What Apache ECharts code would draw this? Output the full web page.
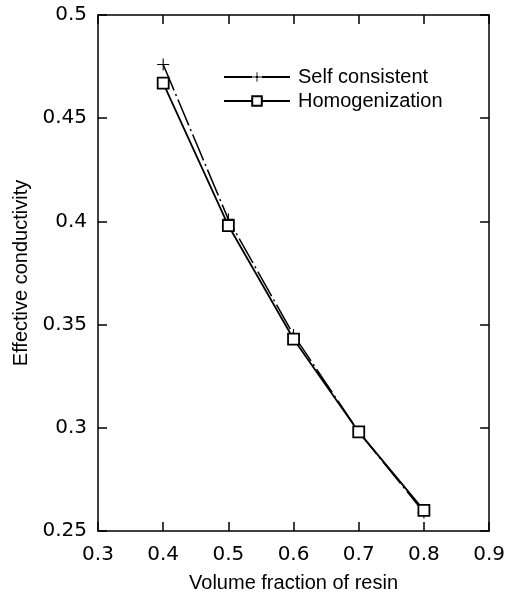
<!DOCTYPE html>
<html>
<head>
<meta charset="utf-8">
<script src="https://cdn.jsdelivr.net/npm/echarts@6/dist/echarts.min.js"></script>
<style>
  html, body { margin: 0; padding: 0; background: #fff; }
  #chart { width: 508px; height: 598px; }
</style>
</head>
<body>
<div id="chart"></div>
<script>
// volume fraction of resin
const fractions = [0.4, 0.5, 0.6, 0.7, 0.8];
const selfConsistent = [0.476, 0.401, 0.345, 0.298, 0.259];
const homogenization = [0.467, 0.398, 0.343, 0.298, 0.260];

const chart = echarts.init(document.getElementById('chart'));

const font = '"Liberation Sans", Arial, sans-serif';
const tickFont = '"DejaVu Sans", sans-serif';
const crossPath = 'path://M-0.09,-1 L0.09,-1 L0.09,-0.09 L1,-0.09 L1,0.09 L0.09,0.09 L0.09,1 L-0.09,1 L-0.09,0.09 L-1,0.09 L-1,-0.09 L-0.09,-0.09 Z';

const axisLine = { show: true, lineStyle: { color: '#000', width: 1.5 } };
const axisTick = { show: true, inside: true, length: 9, lineStyle: { color: '#000', width: 1.5 } };

const options = {
  animation: false,
  backgroundColor: '#fff',
  textStyle: { fontFamily: font },
  grid: { left: 98, right: 18, top: 15, bottom: 61, containLabel: false },
  legend: {
    orient: 'vertical',
    left: 218,
    top: 62,
    itemWidth: 66,
    itemHeight: 12,
    itemGap: 4,
    textStyle: { fontSize: 20, color: '#000', fontFamily: font, padding: [0, 0, 0, 3] },
    data: ['Self consistent', 'Homogenization']
  },
  xAxis: [
    {
      type: 'value', min: 0.3, max: 0.9, interval: 0.1,
      name: 'Volume fraction of resin', nameLocation: 'middle', nameGap: 42,
      nameTextStyle: { fontSize: 20, color: '#000' },
      axisLine, axisTick,
      splitLine: { show: false },
      axisLabel: { color: '#000', fontSize: 20, fontFamily: tickFont, margin: 14, formatter: v => v.toFixed(1) }
    },
    {
      type: 'value', position: 'top', min: 0.3, max: 0.9, interval: 0.1,
      axisLine, axisTick, splitLine: { show: false }, axisLabel: { show: false }
    }
  ],
  yAxis: [
    {
      type: 'value', min: 0.25, max: 0.5, interval: 0.05,
      name: 'Effective conductivity', nameLocation: 'middle', nameGap: 61,
      nameTextStyle: { fontSize: 20, color: '#000' },
      axisLine, axisTick,
      splitLine: { show: false },
      axisLabel: { color: '#000', fontSize: 20, fontFamily: tickFont, margin: 11, formatter: v => String(+v.toFixed(2)) }
    },
    {
      type: 'value', position: 'right', min: 0.25, max: 0.5, interval: 0.05,
      axisLine, axisTick, splitLine: { show: false }, axisLabel: { show: false }
    }
  ],
  series: [
    {
      name: 'Self consistent',
      type: 'line',
      data: fractions.map((x, i) => [x, selfConsistent[i]]),
      symbol: crossPath,
      symbolSize: 12,
      itemStyle: { color: '#000' },
      lineStyle: { color: '#000', width: 1.5, type: [28, 4, 2, 4] }
    },
    {
      name: 'Homogenization',
      type: 'line',
      data: fractions.map((x, i) => [x, homogenization[i]]),
      symbol: 'rect',
      symbolSize: 11,
      itemStyle: { color: '#fff', borderColor: '#000', borderWidth: 1.8 },
      lineStyle: { color: '#000', width: 1.8 }
    }
  ]
};

chart.setOption(options);
</script>
</body>
</html>
